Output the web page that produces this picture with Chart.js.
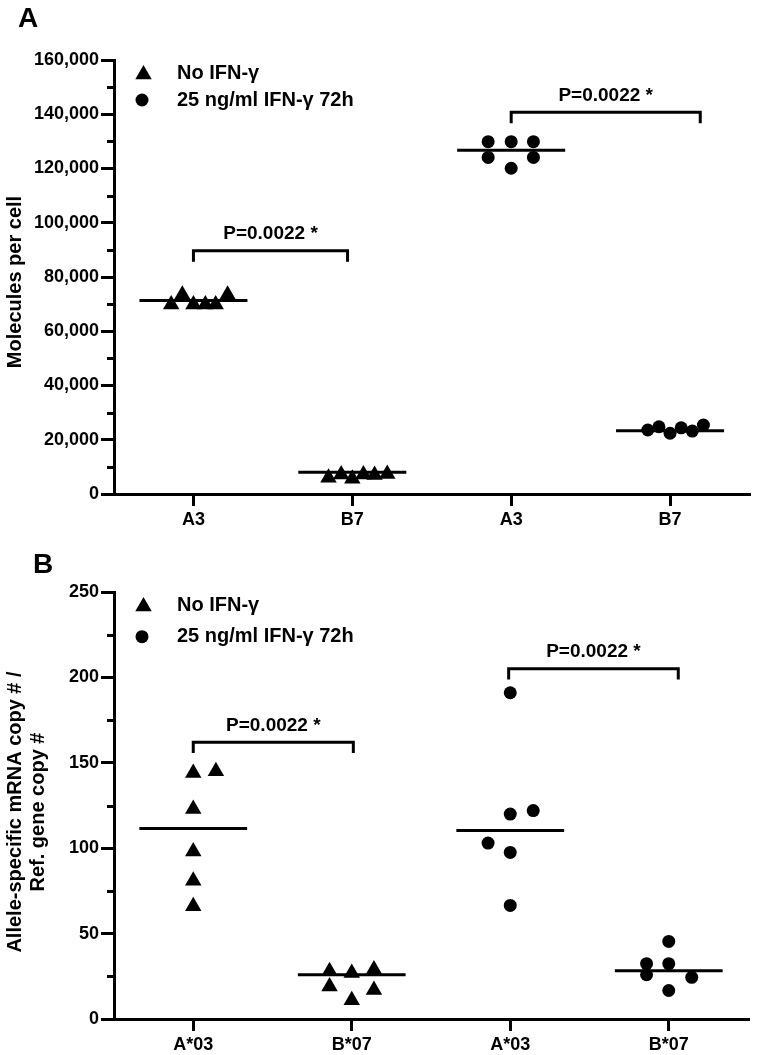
<!DOCTYPE html>
<html>
<head>
<meta charset="utf-8">
<title>MHC allele expression</title>
<script src="https://cdn.jsdelivr.net/npm/chart.js@4.4.1/dist/chart.umd.min.js"></script>
<style>
  html, body { margin: 0; padding: 0; background: #fff; }
  #wrap { position: relative; width: 759px; height: 1055px; overflow: hidden; }
  #wrap canvas { position: absolute; left: 0; }
  #panel-a { top: 0; }
  #panel-b { top: 530px; }
</style>
</head>
<body>
<div id="wrap">
  <canvas id="panel-a" width="759" height="530"></canvas>
  <canvas id="panel-b" width="759" height="525"></canvas>
</div>
<script>
/* ─── Data ─── */
const SERIES_LABELS = ['No IFN-\u03b3', '25 ng/ml IFN-\u03b3 72h'];
const P_LABEL = 'P=0.0022 *';

// Panel A — molecules per cell
const A_CATS       = ['A3', 'B7', 'A3', 'B7'];
const A_Y_MAX      = 160000;
const A_Y_STEP     = 20000;
const A_NOIFN_A3   = [69900, 73500, 69900, 69900, 69900, 73500];
const A_NOIFN_B7   = [6000, 7200, 5600, 7200, 7000, 7400];
const A_IFN_A3     = [129900, 129900, 129900, 124100, 124100, 120100];
const A_IFN_B7     = [23600, 24800, 22400, 24400, 23200, 25400];
const A_MEDIANS    = [71300, 8000, 126700, 23300];
// x offsets of the points inside each column (category units)
const A_OFF_NOIFN_A3 = [-0.14, -0.07, 0, 0.075, 0.14, 0.215];
const A_OFF_NOIFN_B7 = [-0.15, -0.07, 0, 0.07, 0.14, 0.22];
const A_OFF_IFN_A3   = [-0.145, 0, 0.14, -0.145, 0.14, 0];
const A_OFF_IFN_B7   = [-0.14, -0.07, 0, 0.07, 0.14, 0.21];
const A_BRACKETS = [
  { from: 1, to: 1.97, top: 89700, bottom: 85600 },
  { from: 3, to: 4.19, top: 140700, bottom: 136700 },
];

// Panel B — allele-specific mRNA / reference gene copies
const B_CATS       = ['A*03', 'B*07', 'A*03', 'B*07'];
const B_Y_MAX      = 250;
const B_Y_STEP     = 50;
const B_NOIFN_A03  = [144, 145, 123, 98, 81, 66];
const B_NOIFN_B07  = [28, 27, 29, 19, 17, 11];
const B_IFN_A03    = [191, 120, 122, 103, 97.5, 66.5];
const B_IFN_B07    = [45.4, 32.4, 32.4, 25.9, 24.4, 16.7];
const B_MEDIANS    = [111.6, 25.9, 110.4, 28.3];
const B_OFF_NOIFN_A03 = [0, 0.143, 0, 0, 0, 0];
const B_OFF_NOIFN_B07 = [-0.14, 0, 0.14, -0.14, 0.14, 0];
const B_OFF_IFN_A03   = [0, 0, 0.145, -0.14, 0, 0];
const B_OFF_IFN_B07   = [0, -0.14, 0, -0.14, 0.145, 0];
const B_BRACKETS = [
  { from: 1, to: 2.01, top: 162, bottom: 155.7 },
  { from: 2.99, to: 4.06, top: 205, bottom: 198.7 },
];

/* ─── Shared look ─── */
const INK = '#000';
const FONT = "'Liberation Sans', Arial, sans-serif";
Chart.defaults.font.family = FONT;
Chart.defaults.color = INK;

function column(cat, values, offsets) {
  return values.map((v, i) => ({ x: cat + offsets[i], y: v }));
}

function medianSegments(medians) {
  const pts = [];
  medians.forEach((m, i) => {
    pts.push({ x: i + 1 - 0.34, y: m }, { x: i + 1 + 0.34, y: m }, { x: i + 1.5, y: null });
  });
  return pts;
}

function bracketPath(brackets) {
  const pts = [];
  brackets.forEach(b => {
    pts.push({ x: b.from, y: b.bottom }, { x: b.from, y: b.top },
             { x: b.to, y: b.top }, { x: b.to, y: b.bottom }, { x: b.to, y: null });
  });
  return pts;
}

function marker(ctx, style, x, y, r) {
  ctx.beginPath();
  if (style === 'triangle') {
    ctx.moveTo(x, y - r);
    ctx.lineTo(x + r * 0.866, y + r * 0.5);
    ctx.lineTo(x - r * 0.866, y + r * 0.5);
    ctx.closePath();
  } else {
    ctx.arc(x, y, r, 0, Math.PI * 2);
  }
  ctx.fill();
}

/* ─── Decorations: panel letter, legend, y title, minor ticks, p-values ─── */
function decorPlugin(cfg) {
  return {
    id: 'decor',
    afterDraw(chart) {
      const { ctx, chartArea: area } = chart;
      const x = chart.scales.x, y = chart.scales.y;
      ctx.save();
      ctx.fillStyle = INK;
      ctx.strokeStyle = INK;
      ctx.lineWidth = 3;

      // minor ticks on y
      ctx.beginPath();
      for (let v = cfg.yStep / 2; v < cfg.yMax; v += cfg.yStep) {
        const py = Math.round(y.getPixelForValue(v)) + 0.5;
        ctx.moveTo(area.left - 7, py);
        ctx.lineTo(area.left, py);
      }
      // x axis runs a little past the y axis
      const by = Math.round(area.bottom) + 0.5;
      ctx.moveTo(area.left - 12, by);
      ctx.lineTo(area.left, by);
      ctx.stroke();

      // panel letter
      ctx.font = `bold 28px ${FONT}`;
      ctx.textAlign = 'left';
      ctx.textBaseline = 'alphabetic';
      ctx.fillText(cfg.letter, cfg.letterX, cfg.letterY);

      // legend
      ctx.font = `bold 20px ${FONT}`;
      ctx.textBaseline = 'middle';
      marker(ctx, 'triangle', 143.5, cfg.legendY[0], 9.5);
      marker(ctx, 'circle', 142, cfg.legendY[1], 6.5);
      ctx.fillText(SERIES_LABELS[0], 177, cfg.legendY[0] - 1);
      ctx.fillText(SERIES_LABELS[1], 177, cfg.legendY[1]);

      // p-values above brackets
      ctx.font = `bold 19px ${FONT}`;
      ctx.textAlign = 'center';
      cfg.brackets.forEach(b => {
        const px = x.getPixelForValue((b.from + b.to) / 2);
        const py = y.getPixelForValue(b.top) - 17;
        ctx.fillText(P_LABEL, px, py);
      });

      // rotated y title
      ctx.font = `bold 20px ${FONT}`;
      cfg.yTitle.forEach((line, i) => {
        ctx.save();
        ctx.translate(15 + i * 23, cfg.yTitleY);
        ctx.rotate(-Math.PI / 2);
        ctx.fillText(line, 0, 0);
        ctx.restore();
      });
      ctx.restore();
    },
  };
}

function makePanel(el, opt) {
  return new Chart(document.getElementById(el), {
    type: 'scatter',
    data: {
      datasets: [
        {
          label: SERIES_LABELS[0],
          data: opt.noIfn,
          pointStyle: 'triangle',
          pointRadius: 9.5,
          pointHoverRadius: 9.5,
          backgroundColor: INK,
          borderColor: INK,
          borderWidth: 0,
        },
        {
          label: SERIES_LABELS[1],
          data: opt.ifn,
          pointStyle: 'circle',
          pointRadius: 6.5,
          pointHoverRadius: 6.5,
          backgroundColor: INK,
          borderColor: INK,
          borderWidth: 0,
        },
        {
          label: 'median',
          data: medianSegments(opt.medians),
          showLine: true,
          spanGaps: false,
          pointRadius: 0,
          borderColor: INK,
          borderWidth: 3,
          borderCapStyle: 'butt',
        },
        {
          label: 'brackets',
          data: bracketPath(opt.brackets),
          showLine: true,
          spanGaps: false,
          pointRadius: 0,
          borderColor: INK,
          borderWidth: 3,
          borderJoinStyle: 'miter',
          borderCapStyle: 'butt',
        },
      ],
    },
    options: {
      responsive: false,
      animation: false,
      events: [],
      layout: { padding: { left: 0, right: opt.padRight, top: opt.padTop, bottom: 0 } },
      plugins: { legend: { display: false }, tooltip: { enabled: false } },
      scales: {
        x: {
          type: 'linear',
          min: 0.5,
          max: 4.5,
          afterBuildTicks: s => { s.ticks = opt.cats.map((_, i) => ({ value: i + 1 })); },
          afterFit: s => { s.height = opt.xAxisH; },
          ticks: {
            callback: v => opt.cats[v - 1],
            font: { size: 18, weight: 'bold' },
            color: INK,
            padding: 3,
            maxRotation: 0,
            autoSkip: false,
          },
          grid: { drawOnChartArea: false, drawTicks: true, tickLength: 12, color: INK, lineWidth: 3 },
          border: { display: true, color: INK, width: 3 },
        },
        y: {
          min: 0,
          max: opt.yMax,
          afterFit: s => { s.width = 114; },
          ticks: {
            stepSize: opt.yStep,
            callback: v => v.toLocaleString('en-US'),
            font: { size: 18, weight: 'bold' },
            color: INK,
            padding: 2,
          },
          grid: { drawOnChartArea: false, drawTicks: true, tickLength: 13, color: INK, lineWidth: 3 },
          border: { display: true, color: INK, width: 3 },
        },
      },
    },
    plugins: [decorPlugin(opt.decor)],
  });
}

makePanel('panel-a', {
  cats: A_CATS,
  yMax: A_Y_MAX,
  yStep: A_Y_STEP,
  padTop: 60,
  padRight: 5,
  xAxisH: 36,
  noIfn: column(1, A_NOIFN_A3, A_OFF_NOIFN_A3).concat(column(2, A_NOIFN_B7, A_OFF_NOIFN_B7)),
  ifn: column(3, A_IFN_A3, A_OFF_IFN_A3).concat(column(4, A_IFN_B7, A_OFF_IFN_B7)),
  medians: A_MEDIANS,
  brackets: A_BRACKETS,
  decor: {
    letter: 'A', letterX: 18, letterY: 27,
    legendY: [74.5, 100],
    yTitle: ['Molecules per cell'], yTitleY: 282,
    yStep: A_Y_STEP, yMax: A_Y_MAX,
    brackets: A_BRACKETS,
  },
});

makePanel('panel-b', {
  cats: B_CATS,
  yMax: B_Y_MAX,
  yStep: B_Y_STEP,
  padTop: 62,
  padRight: 11,
  xAxisH: 36,
  noIfn: column(1, B_NOIFN_A03, B_OFF_NOIFN_A03).concat(column(2, B_NOIFN_B07, B_OFF_NOIFN_B07)),
  ifn: column(3, B_IFN_A03, B_OFF_IFN_A03).concat(column(4, B_IFN_B07, B_OFF_IFN_B07)),
  medians: B_MEDIANS,
  brackets: B_BRACKETS,
  decor: {
    letter: 'B', letterX: 33, letterY: 43,
    legendY: [76.5, 106.7],
    yTitle: ['Allele-specific mRNA copy # /', 'Ref. gene copy #'], yTitleY: 282,
    yStep: B_Y_STEP, yMax: B_Y_MAX,
    brackets: B_BRACKETS,
  },
});
</script>
</body>
</html>
